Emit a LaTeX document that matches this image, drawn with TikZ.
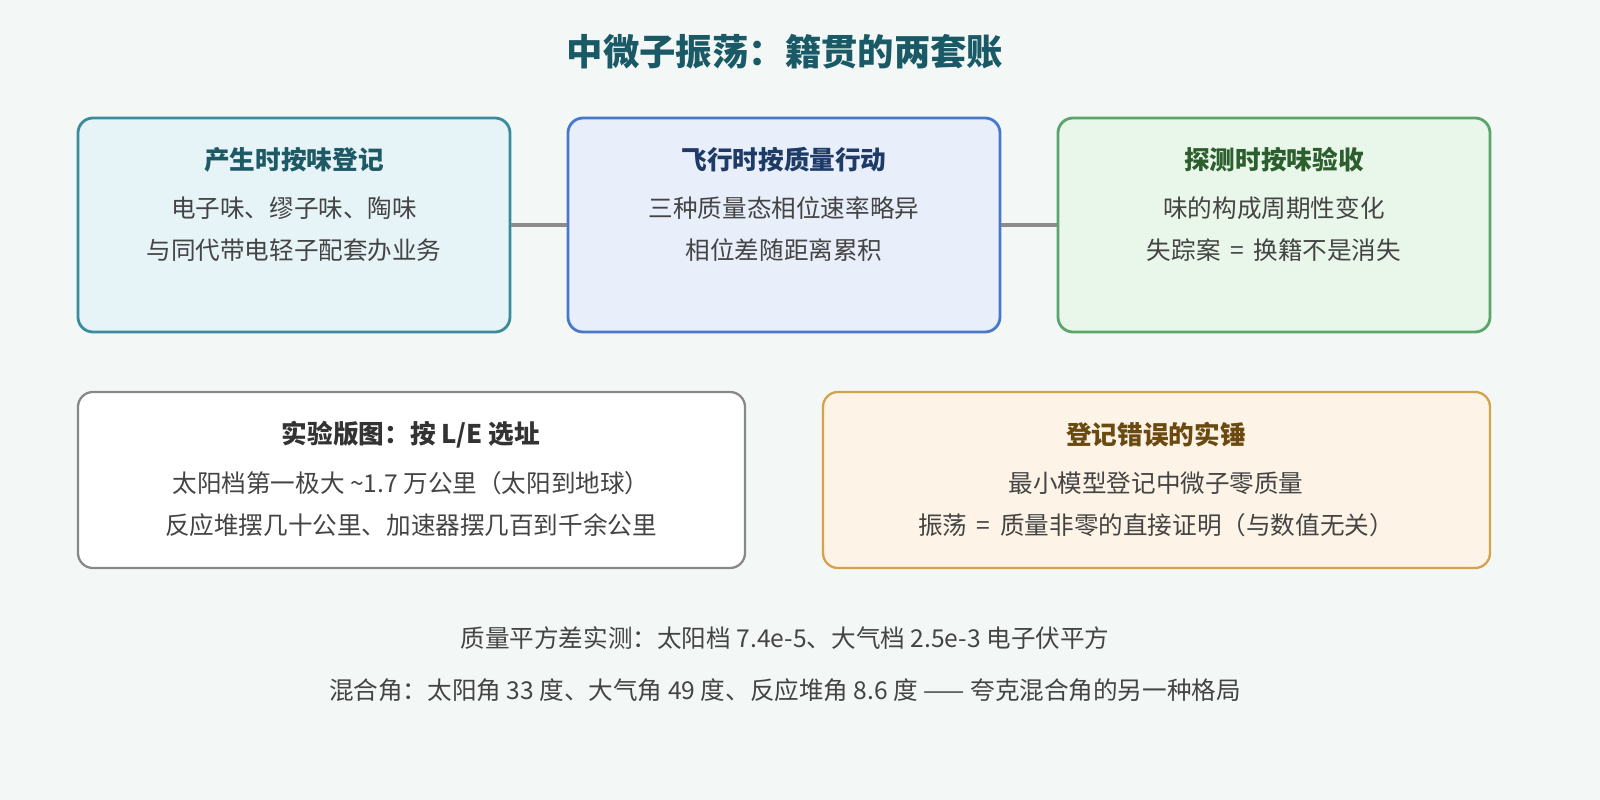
\documentclass[tikz,border=0pt]{standalone}
\usepackage{fontspec}
\setmainfont{Noto Sans CJK SC}
\usetikzlibrary{positioning}
\definecolor{bgc}{HTML}{F3F8F6}
\definecolor{ttl}{HTML}{1A5A66}
\definecolor{txt}{HTML}{444444}
\definecolor{prodEdge}{HTML}{3A8C9C}\definecolor{prodFill}{HTML}{E6F3F7}\definecolor{prodHead}{HTML}{1E5A66}
\definecolor{flyEdge}{HTML}{4A78C8}\definecolor{flyFill}{HTML}{E8EEFA}\definecolor{flyHead}{HTML}{1E3A66}
\definecolor{detEdge}{HTML}{5BA46B}\definecolor{detFill}{HTML}{E9F6EA}\definecolor{detHead}{HTML}{2D5F2E}
\definecolor{mapEdge}{HTML}{888888}\definecolor{mapHead}{HTML}{333333}
\definecolor{errEdge}{HTML}{D4A24A}\definecolor{errFill}{HTML}{FDF3E6}\definecolor{errHead}{HTML}{6B4A12}
\tikzset{
  card/.style={draw, line width=1.6pt, rounded corners=0.3cm},
  head/.style={font=\bfseries\fontsize{14.6}{17}\selectfont},
  line/.style={font=\fontsize{14}{16}\selectfont, text=txt},
  link/.style={draw=gray!90, line width=2pt}
}
\begin{document}
\begin{tikzpicture}[x=0.02cm, y=-0.02cm]
    \fill[bgc] (0,0) rectangle (1600,800);
    \useasboundingbox (0,0) rectangle (1600,800);

    % Title
    \node [font=\bfseries\fontsize{20.7}{24}\selectfont, text=ttl] (title) at (785,52) {中微子振荡：籍贯的两套账};

    % Top row
    \path [card, draw=prodEdge, fill=prodFill] (78,118) rectangle (510,332);
    \node [head, text=prodHead] (prodT) at (294,160) {产生时按味登记};
    \node [line] (prodA) at (294,208) {电子味、缪子味、陶味};
    \node [line] (prodB) at (294,250) {与同代带电轻子配套办业务};

    \path [card, draw=flyEdge, fill=flyFill] (568,118) rectangle (1000,332);
    \node [head, text=flyHead] (flyT) at (784,160) {飞行时按质量行动};
    \node [line] (flyA) at (784,208) {三种质量态相位速率略异};
    \node [line] (flyB) at (784,250) {相位差随距离累积};

    \path [card, draw=detEdge, fill=detFill] (1058,118) rectangle (1490,332);
    \node [head, text=detHead] (detT) at (1274,160) {探测时按味验收};
    \node [line] (detA) at (1274,208) {味的构成周期性变化};
    \node [line] (detB) at (1274,250) {失踪案 \,=\, 换籍不是消失};

    % Connectors
    \coordinate (p1) at (511,225); \coordinate (f1) at (567,225);
    \coordinate (f2) at (1001,225); \coordinate (d1) at (1057,225);
    \draw [link] (p1) -- (f1);
    \draw [link] (f2) -- (d1);

    % Bottom row
    \path [card, line width=1.3pt, draw=mapEdge, fill=white] (78,392) rectangle (745,568);
    \node [head, text=mapHead] (mapT) at (411,435) {实验版图：按 L/E 选址};
    \node [line] (mapA) at (411,483) {太阳档第一极大 \textasciitilde 1.7 万公里（太阳到地球）};
    \node [line] (mapB) at (411,525) {反应堆摆几十公里、加速器摆几百到千余公里};

    \path [card, line width=1.3pt, draw=errEdge, fill=errFill] (823,392) rectangle (1490,568);
    \node [head, text=errHead] (errT) at (1156,435) {登记错误的实锤};
    \node [line] (errA) at (1156,483) {最小模型登记中微子零质量};
    \node [line] (errB) at (1156,525) {振荡 \,=\, 质量非零的直接证明（与数值无关）};

    % Footer
    \node [line] (noteA) at (785,638) {质量平方差实测：太阳档 7.4e-5、大气档 2.5e-3 电子伏平方};
    \node [line] (noteB) at (785,690) {混合角：太阳角 33 度、大气角 49 度、反应堆角 8.6 度 —— 夸克混合角的另一种格局};
\end{tikzpicture}
\end{document}
